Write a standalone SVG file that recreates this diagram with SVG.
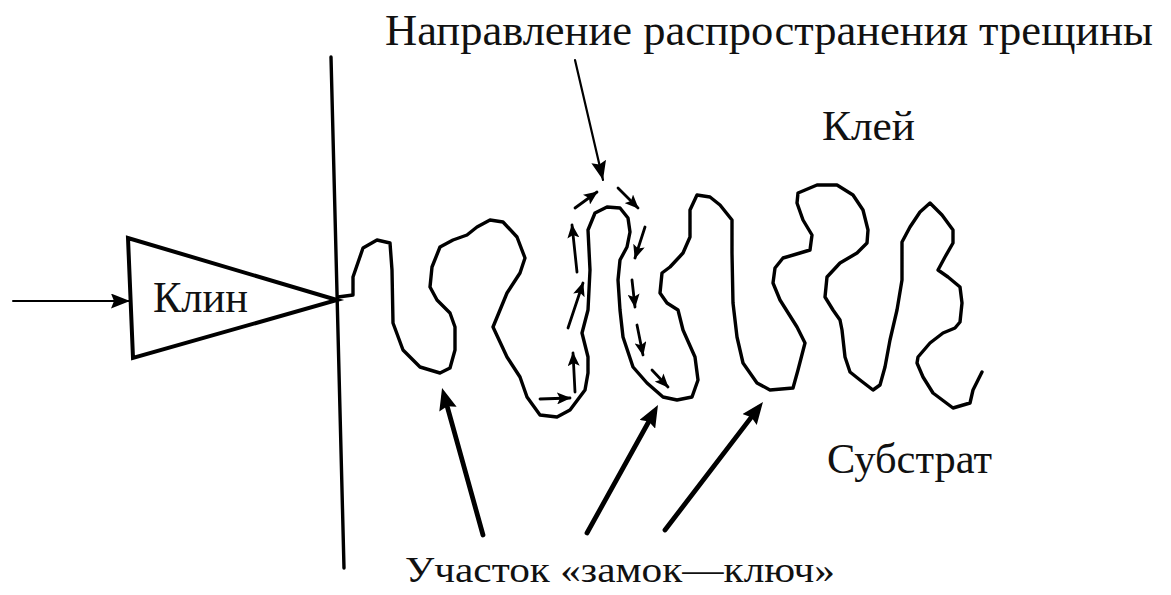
<svg xmlns="http://www.w3.org/2000/svg" width="1171" height="595" viewBox="0 0 1171 595">
<style>
.t{font-family:"Liberation Serif","DejaVu Serif",serif;fill:#111}
.ln{fill:none;stroke:#000;stroke-linejoin:round;stroke-linecap:round}
</style>
<defs>
<marker id="big" viewBox="0 0 22 18" refX="14" refY="9" markerWidth="22" markerHeight="18" orient="auto" markerUnits="userSpaceOnUse"><path d="M0,0 L22,9 L0,18 L3,9 z" fill="#000"/></marker>
<marker id="thin" viewBox="0 0 19 15" refX="19" refY="7.5" markerWidth="19" markerHeight="15" orient="auto" markerUnits="userSpaceOnUse"><path d="M0,0 L19,7.5 L0,15 L3,7.5 z" fill="#000"/></marker>
<marker id="small" viewBox="0 0 14 12" refX="13" refY="6" markerWidth="14" markerHeight="12" orient="auto" markerUnits="userSpaceOnUse"><path d="M0,0 L14,6 L0,12 L3,6 z" fill="#000"/></marker>
</defs>
<rect width="1171" height="595" fill="#fff"/>
<g id="wall"><line x1="331" y1="57" x2="344" y2="568" class="ln" stroke-width="3.4"/></g>
<g id="wedge">
<polygon points="128,238 133,358 337,300" fill="#fff" stroke="#000" stroke-width="4" stroke-linejoin="miter"/>
<text class="t" x="153" y="312" font-size="44" textLength="95" lengthAdjust="spacingAndGlyphs">Клин</text>
</g>
<g id="interface">
<path class="ln" stroke-width="3.4" d="M338,297 L353,295 L353,277 L363,248 L377,240 L390,243 L392,270 L393,323 L403,350 L420,367 L440,373 L450,368 L455,350 L455,327 L450,313 L437,300 L430,287 L432,267 L440,247 L453,240 L467,235 L477,227 L490,220 L503,222 L517,237 L525,258 L520,273 L507,293 L493,327 L507,357 L520,377 L527,397 L540,415 L557,417 L570,410 L585,390 L588,373 L588,357 L582,333 L588,310 L590,270 L588,230 L595,213 L607,207 L620,208 L628,218 L630,232 L627,247 L620,260 L618,280 L620,310 L623,337 L633,367 L647,383 L663,397 L677,400 L692,397 L698,380 L695,357 L683,330 L678,310 L667,303 L660,293 L662,273 L670,267 L683,253 L690,237 L690,210 L697,195 L710,197 L720,205 L732,220 L732,253 L733,303 L737,337 L743,363 L757,383 L770,390 L793,388 L798,370 L805,343 L797,327 L780,300 L773,283 L775,268 L783,258 L800,253 L810,250 L812,235 L803,220 L797,203 L798,193 L817,185 L837,185 L853,195 L863,210 L868,230 L867,243 L857,253 L840,263 L827,277 L825,297 L833,310 L840,320 L842,330 L845,357 L850,372 L860,380 L873,390 L880,385 L885,367 L890,340 L897,310 L902,280 L902,242 L910,227 L920,212 L930,203 L942,215 L953,230 L953,243 L945,257 L938,270 L948,277 L960,287 L962,303 L960,322 L955,328 L943,333 L930,343 L918,357 L917,363 L923,377 L933,393 L953,408 L970,403 L973,390 L982,372"/>
</g>
<g id="label-glue"><text class="t" x="822" y="140" font-size="42" textLength="93" lengthAdjust="spacingAndGlyphs">Клей</text></g>
<g id="label-substrate"><text class="t" x="827" y="473" font-size="42" textLength="165" lengthAdjust="spacingAndGlyphs">Субстрат</text></g>
<g id="label-crack"><text class="t" x="385" y="45" font-size="44" textLength="768" lengthAdjust="spacingAndGlyphs">Направление распространения трещины</text></g>
<g id="label-lock"><text class="t" x="405" y="582" font-size="35" textLength="430" lengthAdjust="spacingAndGlyphs">Участок «замок—ключ»</text></g>
<g id="connectors">
<line class="ln" x1="13" y1="301" x2="130" y2="301" stroke-width="2" marker-end="url(#thin)"/>
<line class="ln" x1="575" y1="60" x2="603" y2="180" stroke-width="2.2" marker-end="url(#thin)"/>
<line x1="483" y1="535" x2="444.2" y2="395.7" stroke="#000" stroke-width="4.8" stroke-linecap="round" marker-end="url(#big)"/>
<line x1="587" y1="533" x2="654.1" y2="412" stroke="#000" stroke-width="4.8" stroke-linecap="round" marker-end="url(#big)"/>
<line x1="665" y1="530" x2="758.1" y2="408.4" stroke="#000" stroke-width="4.8" stroke-linecap="round" marker-end="url(#big)"/>
<g stroke="#000" stroke-width="2.8" stroke-linecap="round" fill="none">
<line x1="540" y1="399" x2="570" y2="398" marker-end="url(#small)"/>
<line x1="575" y1="392" x2="573" y2="353" marker-end="url(#small)"/>
<line x1="568" y1="328" x2="583" y2="283" marker-end="url(#small)"/>
<line x1="577" y1="272" x2="572" y2="225" marker-end="url(#small)"/>
<line x1="575" y1="208" x2="597" y2="192" marker-end="url(#small)"/>
<line x1="618" y1="188" x2="638" y2="208" marker-end="url(#small)"/>
<line x1="645" y1="227" x2="635" y2="258" marker-end="url(#small)"/>
<line x1="632" y1="280" x2="635" y2="307" marker-end="url(#small)"/>
<line x1="637" y1="325" x2="643" y2="355" marker-end="url(#small)"/>
<line x1="652" y1="370" x2="668" y2="387" marker-end="url(#small)"/>
</g>
</g>
</svg>
